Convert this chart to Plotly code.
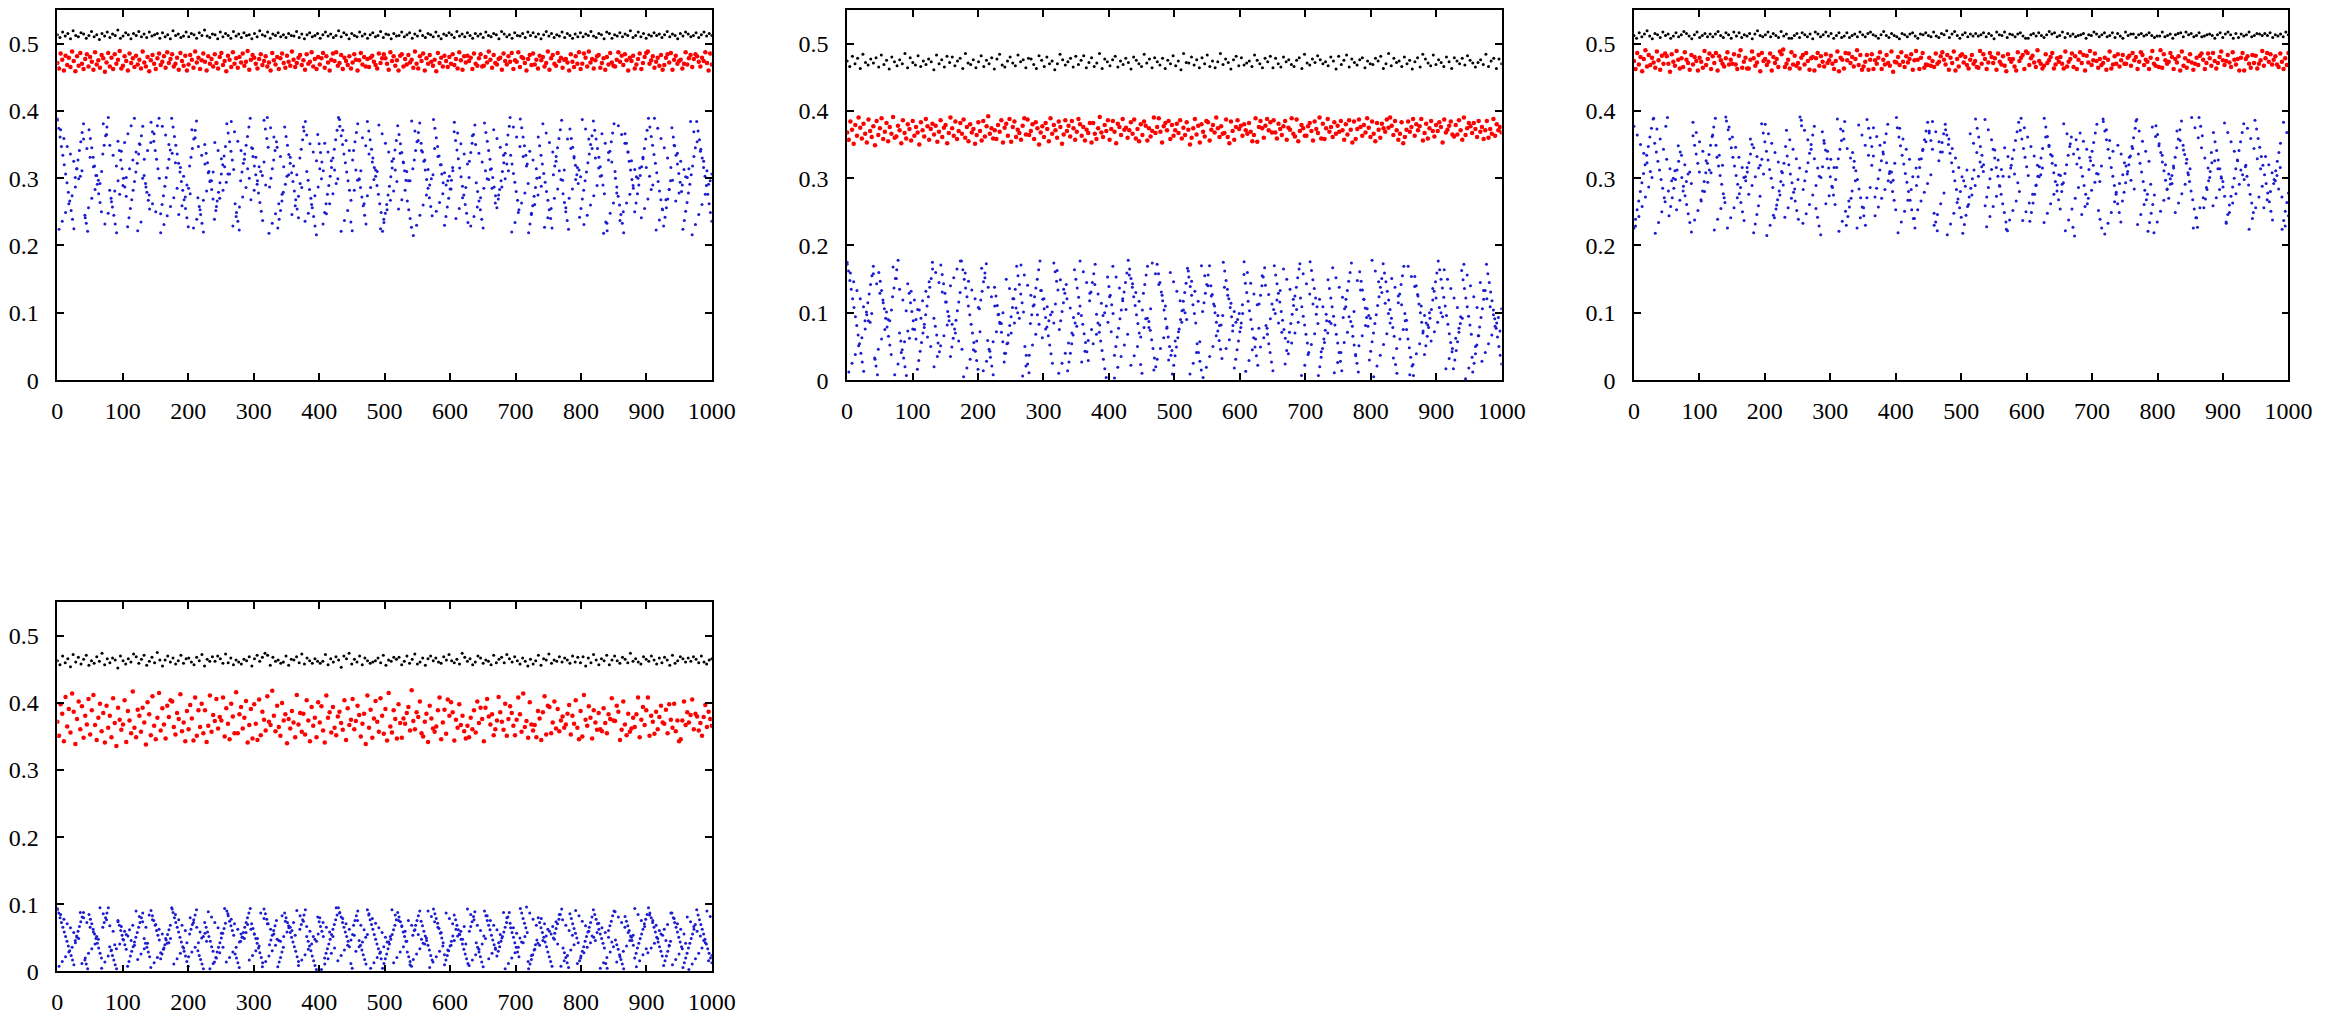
import numpy as np
import plotly.graph_objects as go

# ---------------- tick labels ----------------
x_tick_vals = [0, 100, 200, 300, 400, 500, 600, 700, 800, 900, 1000]
x_tick_text = ["0", "100", "200", "300", "400", "500", "600", "700", "800", "900", "1000"]
y_tick_vals = [0, 0.1, 0.2, 0.3, 0.4, 0.5]
y_tick_text = ["0", "0.1", "0.2", "0.3", "0.4", "0.5"]
X_RANGE = [0, 1000]
Y_RANGE = [0, 0.55]

# ---------------- series values (in thousandths) ----------------
# blue series are given as two interleaved sample sets (_a and _b)
p1_black = [
513,509,517,511,515,507,519,512,510,516,514,508,512,518,510,513,506,515,511,517,
509,514,512,520,508,511,516,513,507,515,512,518,510,514,509,517,511,513,515,508,
516,510,513,507,519,512,514,509,511,517,510,515,513,508,516,512,520,511,509,514,
513,507,517,510,515,512,508,518,511,514,509,516,512,513,507,515,510,519,513,511,
517,508,514,512,516,510,513,509,515,512,511,518,509,514,507,513,516,510,512,515,
508,513,517,511,514,509,512,519,510,516,513,507,515,512,510,517,511,514,508,513,
516,510,512,518,509,514,513,507,515,511,512,517,510,513,516,508,514,511,519,512,
509,515,513,510,517,511,507,514,512,516,513,509,518,511,514,510,516,512,508,515,
511,514,509,517,512,510,515,513,507,518,514,510,513,508,516,512,511,515,509,517,
512,516,510,514,507,513,518,511,515,509,513,511,517,509,515,512,508,514,510,516,
510,514,512,518,511,509,515,513,507,517,515,508,513,511,516,510,514,512,519,509,
512,517,510,515,508,513,511,516,512,514,509,513,518,510,514,512,507,515,511,517,
514,510,512,516,509,513,517,511,515,512]
p1_red = [
471,463,485,476,460,482,468,479,465,488,474,459,481,467,486,470,462,477,484,466,
480,473,461,487,469,475,464,483,478,458,472,486,466,479,462,484,470,476,489,463,
467,481,474,460,485,471,478,465,482,469,476,463,488,472,466,480,459,475,483,470,
462,478,485,468,473,481,464,487,471,477,484,466,470,479,461,486,474,467,482,460,
469,483,476,464,488,472,479,462,475,485,473,460,481,470,477,466,484,471,463,480,
486,468,474,459,482,476,465,487,470,478,464,480,472,485,467,473,489,461,476,483,
479,470,463,477,484,468,474,481,466,472,460,486,475,469,480,462,478,485,471,464,
482,473,467,488,476,465,471,479,483,468,475,461,484,470,473,487,466,477,462,480,
469,478,486,464,481,472,460,476,485,474,487,467,471,483,462,479,474,468,481,463,
472,484,476,460,475,486,469,480,466,477,465,479,482,473,468,463,485,471,478,484,
478,470,461,487,474,481,467,475,460,482,484,466,477,469,483,472,476,464,488,470,
463,481,474,485,460,478,470,483,473,467,476,459,486,471,479,466,482,474,465,480,
470,484,468,477,463,487,475,461,481,472,482,474,479,462,485,470,467,478,484,466,
467,480,472,488,476,464,483,471,469,477,479,461,485,474,469,481,473,486,462,475,
473,487,465,480,478,471,460,477,483,468,485,469,476,463,482,475,480,466,471,488,
461,478,483,470,467,486,474,479,464,476,477,472,460,484,473,465,481,470,487,462,
470,485,479,466,488,472,477,463,475,481,483,464,471,478,461,480,469,486,472,467,
466,476,487,473,482,468,484,475,460,479,474,482,463,469,477,485,462,471,480,486,
488,470,475,481,464,473,479,467,483,461,468,479,484,472,486,461,476,482,470,474,
476,463,470,487,469,478,483,465,477,484,481,473,466,479,474,487,471,460,485,469]
p1_blue_a = [
388,374,361,347,334,320,306,293,279,266,252,239,225,301,314,327,341,354,368,381,
245,233,221,372,359,345,331,318,304,291,277,264,250,336,349,363,376,390,
282,270,257,245,232,219,355,341,327,314,300,287,273,
228,241,255,268,282,295,309,322,336,350,363,377,304,292,279,267,254,
383,369,355,341,328,314,300,247,261,274,288,301,315,328,342,
389,376,362,349,336,322,309,295,282,268,255,241,228,318,331,344,358,371,385,
271,258,246,233,220,350,337,323,310,296,283,269,239,252,266,279,293,306,320,333,347,
381,367,354,340,327,313,262,249,236,223,296,309,322,336,349,362,376,389,
345,332,318,305,291,278,264,251,237,386,373,359,346,287,300,314,327,341,354,
226,239,252,266,279,376,362,349,335,322,308,295,281,268,254,241,330,343,357,370,384,
310,297,283,270,256,243,229,216,365,351,338,324,311,
249,262,276,289,303,316,330,343,357,371,390,377,363,350,336,323,309,296,282,
235,222,341,354,368,381,299,286,272,259,245,232,
384,370,357,343,330,316,303,289,276,262,249,221,234,248,261,275,288,302,315,329,342,356,
378,365,351,338,324,311,297,266,253,240,227,314,327,341,354,368,382,
352,339,325,312,298,285,271,258,244,387,374,360,347,333,320,306,293,
230,243,257,270,284,297,311,369,356,342,329,315,302,288,275,261,248,234,
325,338,352,365,379,293,280,266,253,239,226,382,368,355,341,328,314,301,287,274,
256,269,283,296,310,323,337,350,364,377,334,321,307,294,280,267,253,
388,375,361,348,334,321,219,232,246,259,273,286,300,
361,348,334,321,307,294,280,267,253,240,226,305,318,332,345,359,372,386,
277,264,250,237,224,373,359,346,332,319,305,292,
242,255,269,282,296,309,323,336,350,363,385,371,358,344,331,317,304,290,277,
235,222,327,340,354,367,381,300,287,273,260,246,233,219,366,352,339,325,312,298,285,
250,263,277,290,304,317,331,344,358,371,389,376,362,349,335,322,308,295,281,268,254,
229,242,256,269,283,296,375,361,348,334,321,307,294,280,
224,237,251,264,278,291,305,318,332,345,384,370,357,343,330,316,303,289,276,262,249,236]
p1_blue_b = [
386,224,372,236,359,249,347,262,336,274,325,287,314,299,303,311,
358,241,344,256,331,270,317,283,304,297,292,310,381,232,365,248,349,265,334,281,318,296,
276,340,289,353,301,366,314,378,327,389,339,222,351,235,300,328,287,341,275,353,262,366,250,378,
389,219,377,231,364,244,350,258,337,271,323,285,246,316,259,303,272,290,285,277,
372,226,360,239,347,253,334,267,321,281,308,295,296,309,353,258,341,270,329,282,317,294,306,306,
384,229,369,243,355,257,341,272,328,286,314,300,268,344,282,331,296,317,310,304,324,290,
390,218,375,233,361,247,346,262,332,276,317,291,303,305,331,246,318,259,305,273,292,286,
376,236,364,248,351,261,339,274,326,287,314,299,232,352,247,339,262,326,277,312,292,299,
387,221,371,237,356,252,341,267,327,282,312,297,298,311,360,262,348,274,336,286,324,298,312,310,
379,225,366,239,352,253,339,267,325,281,312,295,254,337,268,323,282,310,296,296,
385,215,370,230,356,245,341,260,327,275,313,290,299,305,344,251,332,264,320,277,308,290,296,303,284,316,
383,240,367,255,351,271,336,286,321,301,229,363,243,350,257,337,271,324,285,311,299,298,313,285,
372,263,359,275,346,287,334,299,321,311,390,220,376,234,361,249,347,263,332,278,318,292,
340,248,327,261,314,275,301,288,381,227,367,241,353,255,339,270,325,284,311,298,297,312,
256,358,270,344,284,330,298,316,312,302,387,231,373,245,358,260,344,274,330,289,315,303,
366,218,352,233,338,248,324,263,310,278,378,237,365,250,352,263,339,276,326,289,313,302,300,315,
241,329,255,316,269,303,283,290,389,223,374,238,359,253,345,268,330,283,316,297,
349,266,337,278,325,290,313,302,301,314,384,216,369,231,354,246,340,261,325,276,311,291,296,306]

p2_black = [
474,466,481,470,478,463,484,472,468,477,471,479,465,483,469,475,462,480,473,467,
476,470,485,464,479,472,468,482,466,474,469,477,473,461,483,470,476,465,481,472,
480,467,474,478,463,485,471,469,476,464,473,482,466,475,470,479,462,477,484,468,
465,474,480,471,467,483,473,476,464,478,477,469,463,482,475,466,480,470,474,461,
470,484,476,468,473,478,465,481,469,475,482,464,472,479,466,471,485,463,477,473,
467,476,481,465,474,469,478,472,462,480,475,470,466,484,471,477,464,479,473,468,
478,463,475,470,482,467,474,461,485,472,471,480,468,476,464,479,470,483,466,474,
464,473,485,469,477,472,462,476,481,467,479,468,471,474,466,483,475,470,464,478,
473,481,464,478,470,465,480,473,476,469,466,475,479,463,484,471,468,477,472,482,
476,470,473,467,480,474,462,481,469,475,483,465,477,472,468,476,479,464,474,470,
469,478,474,481,463,470,485,467,478,472,474,466,480,470,475,462,473,479,465,484,
477,471,467,483,469,476,472,466,480,473,463,479,474,470,478,468,482,475,471,465,
472,476,469,484,466,474,478,463,477,470]
p2_red = [
368,357,384,372,351,379,363,390,375,359,381,366,353,387,370,361,377,349,385,364,
374,389,358,369,382,355,376,366,391,360,362,378,371,352,386,367,359,380,373,356,
385,363,376,368,350,383,371,362,388,377,357,373,381,365,378,354,369,386,361,375,
379,352,367,390,374,363,384,358,370,382,366,387,360,376,355,380,368,373,351,364,
383,370,356,385,362,377,392,366,374,359,371,358,379,369,386,353,375,381,363,388,
354,376,384,361,372,367,357,378,389,365,387,364,370,380,358,383,374,350,368,377,
361,382,373,355,389,366,379,371,360,384,376,351,365,386,370,378,362,385,374,357,
369,388,380,363,376,356,372,367,382,353,382,366,358,374,391,368,361,379,370,386,
357,373,385,369,352,381,376,364,388,372,375,360,371,383,366,387,359,373,355,380,
364,384,378,356,374,362,370,390,367,376,389,369,353,377,382,371,385,358,379,363,
371,381,367,386,359,375,364,383,372,350,360,374,388,365,378,353,380,369,362,385,
383,356,372,379,368,390,374,361,377,366,367,387,361,352,384,370,357,376,386,373,
378,363,380,371,366,382,369,355,364,389,354,376,385,374,360,378,388,371,383,368,
386,368,359,381,373,364,377,385,357,375,372,389,366,362,387,355,370,379,374,363,
363,377,382,370,356,384,373,367,390,359,381,358,374,388,369,376,361,383,366,378,
369,385,371,357,380,365,386,372,353,384,358,373,387,376,363,379,368,389,375,361,
384,366,355,382,372,360,381,374,369,387,375,390,378,364,385,371,357,366,383,352,
361,372,384,369,376,388,363,380,371,377,388,356,367,381,359,374,385,370,362,379,
370,383,376,353,387,368,372,378,384,365,362,379,365,386,371,357,390,364,374,382,
377,367,382,373,361,385,369,376,358,371,385,360,373,366,388,363,380,371,376,368]
p2_blue_a = [
175,162,148,135,121,108,94,81,67,54,40,27,13,88,101,115,128,142,155,169,
33,21,8,160,147,133,119,106,92,79,65,52,38,124,137,151,164,178,
70,58,45,33,20,7,143,129,115,102,88,75,61,
16,29,43,56,70,83,97,110,124,138,151,165,92,80,67,55,42,
171,157,143,129,116,102,88,35,49,62,76,89,103,116,130,
177,164,150,137,124,110,97,83,70,56,43,29,16,106,119,132,146,159,173,
59,46,34,21,8,138,125,111,98,84,71,57,27,40,54,67,81,94,108,121,135,
169,155,142,128,115,101,50,37,24,11,84,97,110,124,137,150,164,177,
133,120,106,93,79,66,52,39,25,174,161,147,134,75,88,102,115,129,142,
14,27,40,54,67,164,150,137,123,110,96,83,69,56,42,29,118,131,145,158,172,
98,85,71,58,44,31,17,4,153,139,126,112,99,
37,50,64,77,91,104,118,131,145,159,178,165,151,138,124,111,97,84,70,
23,10,129,142,156,169,87,74,60,47,33,20,
172,158,145,131,118,104,91,77,64,50,37,9,22,36,49,63,76,90,103,117,130,144,
166,153,139,126,112,99,85,54,41,28,15,102,115,129,142,156,170,
140,127,113,100,86,73,59,46,32,175,162,148,135,121,108,94,81,
18,31,45,58,72,85,99,157,144,130,117,103,90,76,63,49,36,22,
113,126,140,153,167,81,68,54,41,27,14,170,156,143,129,116,102,89,75,62,
44,57,71,84,98,111,125,138,152,165,122,109,95,82,68,55,41,
176,163,149,136,122,109,7,20,34,47,61,74,88,
149,136,122,109,95,82,68,55,41,28,14,93,106,120,133,147,160,174,
65,52,38,25,12,161,147,134,120,107,93,80,
30,43,57,70,84,97,111,124,138,151,173,159,146,132,119,105,92,78,65,
23,10,115,128,142,155,169,88,75,61,48,34,21,7,154,140,127,113,100,86,73,
38,51,65,78,92,105,119,132,146,159,177,164,150,137,123,110,96,83,69,56,42,
17,30,44,57,71,84,163,149,136,122,109,95,82,68,
12,25,39,52,66,79,93,106,120,133,172,158,145,131,118,104,91,77,64,50,37,24]
p2_blue_b = [
172,12,159,25,146,38,133,51,121,63,109,76,97,88,86,99,
158,31,143,46,129,61,115,75,101,90,88,104,168,8,151,24,135,41,119,57,103,73,
62,132,76,119,90,105,104,92,118,78,132,64,146,50,175,20,160,35,145,51,131,66,116,82,
95,140,83,152,70,165,58,177,46,5,159,18,147,31,134,45,121,58,108,72,
166,14,152,28,138,43,124,57,110,72,97,86,84,100,40,150,55,136,70,121,85,107,100,92,
171,6,156,21,141,37,126,52,112,68,97,83,133,63,121,76,109,88,97,101,85,113,
163,10,149,25,135,40,121,55,107,70,93,85,80,99,177,27,161,43,145,59,129,75,
54,142,68,128,82,114,96,100,110,86,124,72,169,3,153,19,137,35,121,52,105,68,
156,22,143,36,130,50,117,64,104,78,91,92,78,106,174,15,158,31,142,47,126,63,110,79,
30,160,44,146,58,132,72,118,86,104,100,90,162,9,147,25,132,41,117,57,
170,4,155,19,140,35,125,50,110,66,96,81,82,96,138,47,126,60,114,73,102,86,90,99,78,112,
176,13,160,29,144,45,128,61,112,77,49,155,63,141,77,127,91,113,105,99,119,85,133,71,
165,24,150,39,135,55,120,70,105,86,173,7,158,22,143,38,128,53,113,69,98,84,
120,42,109,56,98,70,87,84,167,11,152,26,138,41,123,56,109,71,94,87,80,102,
36,148,51,134,66,120,81,106,96,92,178,5,162,21,146,37,130,53,114,69,99,85,
151,33,138,47,125,61,112,75,99,89,169,8,154,23,139,39,125,54,110,70,96,85,82,100,
58,136,72,122,86,108,100,94,164,17,150,32,136,47,122,62,108,77,94,92,
172,2,156,18,140,34,124,50,108,66,145,28,133,41,121,54,109,67,97,80,85,93,73,106]

p3_black = [
512,508,516,510,514,519,511,507,515,513,509,517,512,514,508,511,516,510,513,518,
515,511,507,513,517,509,512,515,510,514,510,514,518,512,509,516,513,508,517,511,
516,509,513,511,515,507,514,519,512,510,513,517,510,515,512,509,518,511,514,508,
508,512,515,509,516,513,510,514,507,517,514,510,513,517,511,515,508,512,516,509,
511,516,509,512,514,510,517,513,510,515,517,513,511,508,513,518,512,509,515,512,
510,507,515,513,510,514,516,511,508,514,513,516,512,510,517,511,509,515,513,519,
509,514,518,512,508,513,516,510,514,511,515,511,513,516,510,515,512,507,517,513,
512,517,509,514,513,510,514,516,511,508,508,513,515,511,516,512,509,513,518,514,
516,510,512,517,509,515,511,514,510,512,513,515,508,513,512,517,514,510,513,516,
510,512,516,509,515,511,508,517,512,514,514,509,513,515,511,513,516,512,509,511,
511,517,510,512,514,508,513,515,516,510,517,513,515,510,512,516,510,511,513,514,
512,508,513,516,509,514,517,513,508,515,509,514,511,513,517,510,512,515,514,512,
515,512,516,509,513,511,514,510,517,513]
p3_red = [
474,462,486,469,480,459,477,490,466,483,468,479,472,464,488,475,461,482,470,485,
481,470,458,484,473,467,489,476,463,478,465,487,476,471,461,483,469,480,474,460,
479,473,464,489,468,477,485,462,481,471,486,460,481,475,470,466,478,487,469,476,
470,484,469,462,482,490,464,473,479,463,463,476,488,478,467,472,483,459,486,474,
477,468,473,485,460,480,471,477,465,488,484,491,465,470,476,463,487,469,482,467,
471,463,479,483,469,486,474,461,478,480,460,478,486,467,481,473,466,484,471,475,
482,470,462,474,488,459,479,476,463,486,475,485,471,480,466,477,490,468,483,461,
466,473,483,461,476,484,462,475,470,479,487,462,476,469,483,471,467,488,458,473,
472,480,468,487,473,465,481,472,477,484,461,475,489,476,462,479,486,464,469,468,
479,467,474,465,485,470,473,481,487,476,469,483,461,479,471,488,460,477,466,482,
484,472,480,468,463,476,483,470,474,465,464,489,470,484,477,462,472,486,480,471,
478,461,485,473,469,481,467,459,484,477,473,477,466,460,487,474,479,483,462,488,
486,468,478,482,472,465,490,474,470,463,467,484,471,475,480,486,463,469,478,473,
480,470,463,488,466,473,477,485,465,481,462,476,487,471,483,460,482,472,489,468,
475,485,474,464,477,468,471,479,461,476,488,463,469,481,470,484,466,475,483,470,
470,479,482,467,486,475,480,462,473,487,483,468,476,473,462,479,489,470,467,477,
465,490,464,484,475,470,473,486,480,462,477,472,481,460,488,467,478,464,474,484,
472,461,470,479,468,482,485,476,462,471,485,478,467,486,474,463,471,480,488,475,
468,474,483,472,465,487,476,469,477,460,479,486,460,477,481,470,464,483,471,482,
463,470,475,489,467,478,486,473,484,469,476,481,469,465,485,473,462,478,468,486]
p3_blue_a = [
226,239,253,266,280,293,307,320,334,347,361,374,388,352,339,325,312,298,285,271,
377,390,244,258,271,285,298,312,325,339,301,288,274,261,247,234,220,
363,349,336,322,309,268,281,295,308,322,335,349,362,376,389,331,318,304,291,277,264,
385,372,358,345,331,318,304,291,277,264,250,237,296,309,323,336,350,
219,232,246,259,273,381,367,354,340,327,313,300,286,241,254,268,281,295,308,322,
347,333,320,306,293,279,266,252,239,391,378,283,296,310,323,337,350,364,377,
255,242,229,216,369,356,342,329,315,302,288,275,261,316,329,343,356,370,384,
230,243,257,270,338,325,311,298,284,271,257,244,230,387,374,360,347,333,
272,285,299,312,326,339,353,366,380,307,294,280,267,253,
375,361,348,334,321,307,294,280,267,253,240,226,289,302,316,329,343,357,370,
383,370,356,343,248,235,222,326,339,353,366,380,
364,350,337,323,310,296,283,269,256,242,218,231,245,258,272,285,299,312,
388,374,361,347,334,320,259,272,286,299,313,343,330,316,303,289,276,262,249,235,222,
302,315,329,342,356,369,383,371,358,344,331,317,304,
236,249,263,276,290,303,317,330,344,389,376,362,349,335,322,308,295,281,268,254,
280,293,307,320,334,347,361,227,214,357,343,330,316,303,289,276,262,
313,326,340,353,367,380,252,239,226,384,370,357,343,330,316,303,289,276,262,249,235,
266,279,293,306,320,333,347,360,374,387,336,322,309,295,282,268,221,234,248,261,275,
378,365,351,338,324,311,297,284,270,291,304,318,331,345,358,372,385,
349,335,322,308,295,281,268,254,241,227,390,377,363,256,269,283,296,310,323,
368,354,341,327,314,300,287,273,233,246,260,273,287,300,314,327,341,354,368,381,
317,303,290,276,263,249,386,373,359,346,332,319,305,292,278,265,251,238,
298,311,325,338,352,224,237,251,264,278]
p3_blue_b = [
377,229,364,243,350,258,337,272,323,287,310,301,389,218,373,234,358,250,343,265,328,281,314,296,300,311,
253,348,267,334,281,320,295,306,309,292,383,238,368,252,354,266,340,280,326,294,312,308,
364,223,349,239,334,255,319,271,391,226,376,241,361,256,346,271,331,286,316,301,302,316,
276,358,289,345,302,332,315,319,328,306,380,215,366,230,352,245,338,260,324,275,310,290,
242,371,256,357,270,343,284,329,298,315,386,233,371,247,357,261,343,275,329,289,315,303,301,317,
352,262,340,274,328,286,316,298,388,221,373,236,358,251,344,266,330,281,316,296,
226,379,241,364,256,349,271,334,286,319,375,244,362,257,349,270,336,283,323,296,310,309,297,322,
390,219,374,235,358,251,343,267,328,283,302,240,315,253,328,266,341,279,354,292,367,305,
384,230,369,246,354,262,339,278,372,216,358,232,344,248,330,264,316,280,302,296,288,312,
261,366,275,352,289,338,303,324,317,310,387,228,372,243,357,258,342,273,327,288,313,303,
345,224,332,238,319,252,306,266,293,280,389,237,375,250,361,263,347,276,333,289,319,302,305,315,
234,361,248,347,262,333,276,319,290,305,304,291,381,222,366,238,351,254,336,270,321,286,
367,246,355,258,343,270,331,282,319,294,307,306,295,318,388,217,372,233,356,249,340,265,
279,349,292,336,305,323,318,310,331,297,344,284,385,231,370,246,355,261,340,276,325,291,
376,219,362,235,348,251,334,267,320,283,306,299,292,315,249,370,263,356,277,342,291,328,305,314,
390,226,375,241,360,256,345,271,330,286,315,301,338,259,326,271,314,283,302,295,
382,235,368,249,354,263,340,277,326,291,312,305,298,319,374,224,359,240,344,256,329,272,314,288,
256,332,268,320,280,308,292,296,304,284,316,272,383,229,368,244]

p4_black = [
463,457,470,460,466,454,472,461,468,458,465,471,456,463,459,469,462,474,457,466,
460,467,464,452,470,463,458,466,461,473,469,459,465,471,456,462,468,460,475,464,
455,464,470,461,467,458,463,471,459,466,467,461,457,468,463,472,455,465,462,469,
462,470,466,459,473,460,467,457,464,461,458,465,463,469,455,466,471,462,468,474,
471,456,468,462,464,459,461,470,456,465,464,469,460,473,458,467,463,459,466,462,
459,462,472,457,466,461,469,464,453,470,466,474,458,465,461,470,457,467,463,459,
461,463,467,460,471,456,464,462,468,465,468,457,462,470,459,465,473,458,461,467,
456,466,470,463,467,461,459,469,464,472,463,460,465,458,474,468,462,466,457,461,
470,467,459,464,462,457,471,460,465,468,460,472,466,461,469,463,458,467,462,455,
465,458,463,471,456,466,464,473,459,464,462,469,461,467,464,459,470,461,468,460,
469,455,467,460,472,464,457,466,463,471,457,464,470,463,459,468,465,460,474,462,
466,461,458,469,465,462,470,464,458,467,460,468,464,456,471,459,463,469,466,461,
467,462,469,465,460,470,461,458,464,466]
p4_red = [
372,351,398,384,343,409,365,391,356,414,387,339,376,402,361,395,348,381,368,406,
353,389,412,367,345,378,399,358,385,341,396,363,381,349,407,370,336,393,375,360,
368,404,342,388,374,355,417,363,349,390,381,357,393,371,338,401,383,352,410,366,
346,378,415,359,392,368,347,396,379,404,402,364,353,385,376,413,358,371,343,388,
361,397,377,344,408,351,389,364,399,355,389,342,366,411,357,382,373,406,362,379,
374,408,350,392,369,346,399,380,355,416,355,383,394,362,378,403,341,367,391,347,
398,369,345,405,352,387,375,359,410,372,367,418,381,358,396,364,351,400,374,383,
340,376,362,388,371,349,412,368,385,357,384,353,404,374,343,394,366,378,349,401,
371,395,359,341,411,378,386,356,394,363,352,380,387,370,360,404,345,392,367,375,
406,361,373,396,382,350,369,384,339,411,363,390,348,377,403,372,357,407,381,354,
391,344,415,365,356,389,376,347,398,370,348,377,369,385,394,359,419,373,361,386,
379,402,355,350,372,384,342,396,377,362,357,365,389,408,346,371,390,354,405,381,
401,386,344,375,363,398,367,381,358,347,366,349,378,361,389,356,402,370,393,376,
343,393,406,380,368,383,352,361,374,409,386,372,360,399,351,376,395,385,366,352,
375,408,383,357,414,364,373,348,401,368,359,367,349,388,377,345,386,410,353,396,
394,355,371,402,362,391,358,374,380,363,368,384,397,353,381,369,404,363,346,388,
350,412,375,366,395,378,347,389,371,360,385,361,358,392,370,355,383,376,407,374,
373,396,387,345,360,402,368,352,384,357,362,378,364,383,408,349,375,394,367,389,
408,351,381,372,354,387,361,379,396,371,369,390,355,398,375,363,399,358,374,343,
346,374,402,367,386,371,382,405,361,384,380,359,370,351,379,397,364,387,376,366]
p4_blue_a = [
94,87,80,73,66,59,52,45,38,31,24,17,10,46,53,60,67,74,81,88,
17,11,4,85,78,71,63,56,49,42,35,27,20,66,73,80,87,95,
37,31,24,17,10,4,76,69,61,54,47,40,33,8,15,23,30,37,44,51,58,66,73,80,87,
49,42,36,29,22,91,83,76,69,61,54,47,19,26,33,40,47,55,62,69,
95,88,80,73,66,59,51,44,37,30,23,15,8,56,63,70,77,84,92,
31,24,18,11,4,73,66,59,52,45,37,30,14,21,29,36,43,50,57,64,72,
90,83,75,68,61,54,26,20,13,6,45,51,58,66,73,80,87,94,
71,64,56,49,42,35,28,21,13,93,86,78,71,40,47,54,61,68,76,
7,14,21,29,36,87,80,73,65,58,51,44,37,30,22,15,63,70,77,84,92,
52,45,38,31,23,16,9,3,81,74,67,60,52,20,27,34,41,48,55,63,70,77,84,
95,88,81,73,66,59,52,45,37,12,5,69,76,83,90,46,39,32,25,18,11,
92,84,77,70,63,55,48,41,34,27,19,5,12,19,26,34,41,48,55,62,69,77,
88,81,74,67,59,52,45,29,22,15,8,54,61,69,76,83,90,
75,68,60,53,46,39,32,24,17,93,86,79,72,64,57,50,43,10,17,24,31,38,45,53,
84,77,69,62,55,48,41,33,26,19,12,60,67,74,82,89,43,36,29,22,14,7,
90,83,76,69,62,54,47,40,33,23,30,37,45,52,59,66,73,81,88,65,58,51,43,36,29,22,
94,87,79,72,65,58,4,11,18,25,32,40,47,80,73,65,58,51,44,37,29,22,15,8,
50,57,64,71,78,85,93,35,28,21,13,6,86,79,71,64,57,50,43,
16,23,30,37,45,52,59,66,73,81,92,85,78,71,63,56,49,42,35,12,5,
61,68,75,83,90,47,40,33,25,18,11,4,82,75,68,61,53,46,39,
20,27,35,42,49,56,63,71,78,85,95,87,80,73,66,59,51,44,37,30,23,
9,16,23,30,38,45,87,80,73,66,59,51,44,37,
6,13,20,27,35,42,49,56,63,70,92,84,77,70,63,56,48,41,34,27,20,13]
p4_blue_b = [
92,8,85,15,78,22,71,29,65,36,58,43,51,49,88,12,80,20,73,27,66,34,59,41,52,48,
95,5,86,14,77,23,68,32,60,40,34,74,41,67,48,60,55,53,62,46,69,39,
90,18,82,26,74,34,66,42,84,6,77,13,70,21,63,28,56,35,49,42,43,49,
93,11,85,19,77,27,69,35,61,43,22,80,29,73,36,66,43,59,50,52,57,45,
89,4,81,12,73,20,65,28,57,36,94,14,86,21,78,29,71,36,63,44,56,51,49,58,
70,17,63,24,56,31,49,38,87,7,79,15,71,23,63,31,56,39,48,46,
45,83,52,75,59,68,66,61,73,54,91,9,83,17,75,25,67,33,60,41,52,48,45,56,
80,3,73,11,66,19,59,27,52,35,95,16,87,24,79,32,71,39,63,47,55,54,
30,76,37,69,44,62,51,55,86,5,79,13,72,21,65,29,58,37,51,44,44,52,
92,13,84,21,76,29,68,37,60,45,76,10,69,18,62,26,55,34,48,42,41,50,
90,6,82,14,74,22,66,30,58,38,25,87,32,79,39,71,46,63,53,56,60,48,67,41,
93,9,85,17,77,25,69,33,61,41,53,49,83,19,76,27,69,35,62,43,55,50,
88,4,80,12,72,20,65,28,57,36,50,44,43,52,96,15,87,24,78,33,69,42,
39,79,46,71,53,63,60,56,67,48,74,41,85,8,77,16,69,24,61,32,54,40,
91,12,83,20,75,28,68,36,60,43,53,51,46,58,72,5,65,13,58,21,51,29,44,37,
89,14,81,22,73,30,66,38,58,46,51,54,94,7,85,16,76,25,67,34,
28,84,35,76,42,69,49,61,56,54,63,46,70,39,87,10,79,18,71,26,63,34,56,42,
81,3,74,11,67,19,60,27,53,35,46,43,90,16,82,24]

panels = [
    (p1_black, p1_red, p1_blue_a, p1_blue_b),
    (p2_black, p2_red, p2_blue_a, p2_blue_b),
    (p3_black, p3_red, p3_blue_a, p3_blue_b),
    (p4_black, p4_red, p4_blue_a, p4_blue_b),
]

# ---------------- styling ----------------
BLACK = "#000000"
RED = "#ff0000"
BLUE = "#1c1cd0"
FONT = dict(family="Liberation Serif, Times New Roman, serif", size=24, color="black")

W, H = 2349, 1023
# panel boxes in pixels: (left, right, top, bottom)
boxes = [
    (52, 715, 10, 385),
    (852, 1515, 10, 385),
    (1649, 2312, 10, 385),
    (52, 715, 610, 984),
]

fig = go.Figure()

for i, (blk, red, blu_a, blu_b) in enumerate(panels, start=1):
    xa = "x" if i == 1 else f"x{i}"
    ya = "y" if i == 1 else f"y{i}"
    for vals, color, size in [(blu_a, BLUE, 3.0), (blu_b, BLUE, 3.0),
                              (red, RED, 4.5), (blk, BLACK, 3)]:
        yv = np.array(vals, dtype=float) / 1000.0
        xv = np.linspace(0, 1000, len(vals))
        fig.add_trace(go.Scatter(
            x=xv, y=yv, mode="markers",
            marker=dict(color=color, size=size, line=dict(width=0)),
            xaxis=xa, yaxis=ya, showlegend=False, hoverinfo="skip",
        ))

axis_common = dict(
    showline=True, linecolor="black", linewidth=1.5, mirror="ticks",
    ticks="inside", ticklen=7, tickwidth=1.5, tickcolor="black",
    showgrid=False, zeroline=False, tickfont=FONT,
)

layout = dict(
    width=W, height=H, margin=dict(l=0, r=0, t=0, b=0),
    paper_bgcolor="white", plot_bgcolor="white", showlegend=False,
)
for i, (l, r, t, b) in enumerate(boxes, start=1):
    xk = "xaxis" if i == 1 else f"xaxis{i}"
    yk = "yaxis" if i == 1 else f"yaxis{i}"
    xa = "x" if i == 1 else f"x{i}"
    ya = "y" if i == 1 else f"y{i}"
    layout[xk] = dict(
        axis_common, domain=[l / W, r / W], anchor=ya, range=X_RANGE,
        tickmode="array", tickvals=x_tick_vals, ticktext=x_tick_text,
        ticklabelstandoff=8,
    )
    layout[yk] = dict(
        axis_common, domain=[1 - b / H, 1 - t / H], anchor=xa, range=Y_RANGE,
        tickmode="array", tickvals=y_tick_vals, ticktext=y_tick_text,
        ticklabelstandoff=12,
    )

fig.update_layout(**layout)
fig.write_html("out.html", config={"displayModeBar": False},
               post_script="document.body.style.margin='0';")
